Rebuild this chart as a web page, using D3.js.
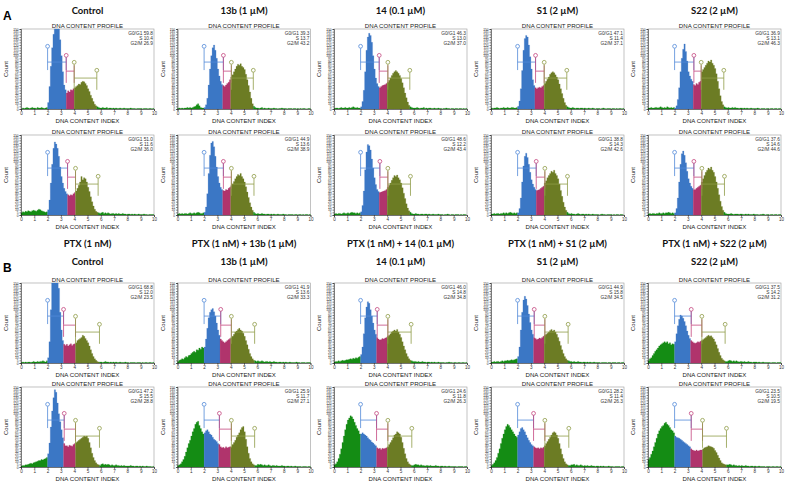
<!DOCTYPE html>
<html><head><meta charset="utf-8">
<script src="https://cdn.jsdelivr.net/npm/d3@7/dist/d3.min.js"></script>
<style>body{margin:0;background:#fff}svg{display:block}</style>
</head><body><svg id="c" width="791" height="485"></svg>
<script>
// ---------- DATA ----------
const titlesA = ["Control","13b (1 µM)","14 (0.1 µM)","S1 (2 µM)","S22 (2 µM)"];
const titlesPTX = ["PTX (1 nM)","PTX (1 nM) + 13b (1 µM)","PTX (1 nM) + 14 (0.1 µM)","PTX (1 nM) + S1 (2 µM)","PTX (1 nM) + S22 (2 µM)"];
const xTicks = [0,1,2,3,4,5,6,7,8,9,10];
const yTicks = [0,5,10,15,20,25,30,35,40,45,50,55,60,65,70,75,80,85,90,95,100,105,110,115,120,125,130,135,140,145,150];
const g0g1 = [59.8,39.3,46.3,47.1,36.9, 51.0,44.9,48.6,38.8,37.6, 68.8,41.9,46.0,44.9,37.5, 47.2,25.9,24.6,28.2,23.5];
const sPh  = [10.4,13.7,13.0,11.4,13.1, 11.6,13.6,12.2,14.3,14.6, 12.0,13.6,14.8,15.8,14.2, 15.5,11.7,11.8,11.4,10.5];
const g2m  = [26.9,43.2,37.0,37.1,46.3, 36.0,38.9,43.4,42.6,44.6, 23.5,33.3,34.8,34.5,31.2, 28.8,27.1,26.3,26.3,19.5];
const gates = [
 [2.0,3.4,4.0,5.7],[2.0,3.45,4.05,5.7],[2.0,3.4,4.05,5.7],[2.0,3.35,4.0,5.7],[2.0,3.45,4.0,5.7],
 [2.0,3.5,4.1,5.8],[2.0,3.45,4.05,5.75],[2.0,3.45,4.05,5.75],[2.0,3.4,4.05,5.75],[2.0,3.45,4.05,5.75],
 [2.0,3.2,4.1,5.9],[2.0,3.25,4.05,5.8],[2.0,3.25,4.05,5.8],[2.0,3.25,4.05,5.8],[2.0,3.25,4.05,5.8],
 [2.0,3.25,4.1,5.9],[2.0,3.15,4.05,5.8],[2.0,3.2,4.05,5.85],[2.0,3.2,4.05,5.85],[2.0,3.25,4.1,5.9]];
// histogram counts, bins of 0.1 DNA content index from 0 to 10
const h01 = [0,2,1,2,3,2,1,2,3,2,2,1,3,2,2,3,2,1,2,3, 12,42,80,115,140,165,180,175,160,130, 100,70,45,36,30,34,32,36,35,38, 40,42,44,47,46,50,52,51,48,44, 38,33,26,20,14,9,6,4,3,2, 2,3,2,2,3,1,2,2,1,2,1,2,1,1,2,1,1,2,1,1,1,1,2,1,1,1,0,1,1,1,1,0,1,1,1,0,1,1,0,1];
const h02 = [1,2,1,2,1,2,2,3,2,3,2,3,4,5,8,10,6,3,2,2, 3,8,20,45,75,100,115,120,110,95, 75,62,52,46,44,42,45,48,50,55, 60,64,70,75,80,84,82,85,80,78, 74,65,55,44,32,20,10,5,3,2, 2,1,2,3,1,2,1,1,2,1,1,1,2,1,1,0,1,1,2,1,1,1,0,1,1,1,0,1,1,0,1,0,1,0,1,1,0,0,1,1];
const h03 = [1,2,2,1,2,3,2,2,3,2,2,3,2,3,4,3,2,3,2,2, 4,14,35,70,110,135,142,138,125,100, 75,58,48,42,40,42,44,45,46,48, 50,54,58,63,67,70,72,70,67,63, 57,49,40,30,21,13,7,4,3,2, 2,2,3,2,1,2,2,3,1,2,1,2,2,1,1,2,1,1,2,1,1,0,1,1,2,1,1,0,1,1,0,1,1,0,1,1,0,1,0,1];
const h04 = [2,1,2,2,3,2,1,2,2,3,2,2,3,2,2,3,3,2,2,3, 5,15,38,72,110,132,138,135,120,98, 75,55,44,40,38,40,41,40,42,44, 48,52,56,60,65,68,70,68,64,60, 55,47,38,29,20,12,7,4,3,2, 2,3,2,1,2,2,1,2,2,1,2,1,1,2,1,1,2,1,0,1,1,1,0,1,2,1,0,1,1,1,0,1,1,0,1,0,1,1,0,1];
const h05 = [2,2,3,2,2,3,3,2,3,4,3,2,3,2,4,3,2,3,2,3, 2,6,18,40,70,95,112,122,108,90, 70,62,56,52,46,44,48,46,50,52, 70,74,78,82,86,90,88,92,86,82, 76,66,52,38,25,14,8,4,3,2, 3,2,2,3,2,3,2,2,1,2,2,1,2,1,2,1,1,2,1,1,1,1,2,1,0,1,1,1,0,1,1,0,1,1,0,1,1,0,1,1];
const h06 = [4,6,5,7,6,8,7,6,8,9,8,7,9,11,10,8,7,6,5,6, 10,28,60,95,125,137,133,125,110,90, 72,60,50,44,40,38,36,38,37,40, 42,45,50,56,62,72,66,70,68,62, 52,44,34,25,17,11,7,5,4,3, 4,5,3,4,3,4,3,2,3,3,2,3,2,3,2,2,3,2,2,1,2,2,1,2,1,2,1,1,2,1,1,1,2,1,1,0,1,1,1,1];
const h07 = [2,3,2,3,2,3,3,2,3,4,3,3,4,3,4,5,4,3,3,4, 5,15,40,78,112,135,138,128,110,90, 72,60,52,48,46,45,48,47,50,52, 55,58,63,68,72,76,74,78,72,68, 62,53,43,33,23,15,9,5,3,2, 3,2,2,3,2,2,1,2,2,1,2,1,2,1,1,2,1,1,1,2,1,1,0,1,1,1,1,0,1,1,0,1,1,0,1,0,1,1,0,1];
const h08 = [2,3,2,3,3,2,3,4,3,3,4,3,4,5,4,4,3,4,3,4, 6,18,45,85,118,132,130,122,105,88, 70,57,48,44,42,43,44,45,46,48, 52,56,60,65,70,74,72,75,70,66, 60,51,41,31,21,13,8,5,3,2, 2,3,2,2,1,2,2,1,2,2,1,2,1,1,2,1,1,1,2,1,1,1,0,1,1,2,1,0,1,1,0,1,1,1,0,1,0,1,1,0];
const h09 = [2,2,3,2,3,3,2,3,3,4,3,4,3,4,5,4,3,4,3,4, 4,12,32,62,92,110,116,108,95,80, 66,58,52,48,46,47,48,50,52,54, 60,64,70,74,78,82,80,84,78,74, 68,58,46,35,24,15,9,5,3,2, 3,2,2,1,2,3,2,1,2,2,1,2,1,2,1,1,2,1,1,1,1,0,1,2,1,1,0,1,1,1,1,0,1,0,1,1,0,1,1,0];
const h10 = [2,3,2,3,3,2,3,3,4,3,3,4,3,4,4,5,4,3,4,3, 4,12,32,62,95,115,120,112,98,82, 68,60,54,50,48,48,50,52,54,56, 62,68,74,80,84,88,86,90,84,80, 72,62,50,38,26,16,9,5,3,2, 2,2,3,2,1,2,2,2,1,2,2,1,1,2,1,2,1,1,1,2,1,1,1,0,1,1,2,1,0,1,1,0,1,1,0,1,1,0,1,1];
const h11 = [1,2,1,2,1,2,2,1,2,3,2,2,3,2,3,3,4,3,2,4, 10,40,100,160,210,230,220,190,140,95, 62,42,35,33,35,32,34,36,33,35, 36,38,42,44,46,48,52,50,46,42, 38,32,25,18,12,8,5,3,2,2, 2,1,2,3,2,2,1,2,1,2,1,2,1,1,2,1,1,1,2,1,1,0,1,1,1,1,0,1,1,1,0,1,0,1,1,0,1,1,0,1];
const h12 = [3,5,6,8,7,10,12,11,14,15,18,20,22,20,25,24,28,26,30,28, 30,45,65,85,95,100,102,96,88,75, 62,52,45,42,40,38,40,42,44,46, 48,50,54,58,60,63,65,62,60,56, 50,42,34,26,18,12,8,5,4,3, 4,3,3,4,3,2,3,3,2,3,2,2,3,2,2,1,2,2,1,2,1,2,1,1,2,1,1,1,1,2,1,1,0,1,1,1,0,1,1,1];
const h13 = [2,3,3,4,3,4,5,4,5,6,6,7,8,7,9,8,10,9,11,12, 16,30,55,85,105,115,112,100,88,75, 62,54,48,45,43,44,46,45,47,48, 50,52,55,58,60,62,60,63,58,54, 48,40,32,25,18,12,8,5,4,3, 3,3,2,3,2,2,3,2,2,1,2,2,1,2,1,2,1,1,2,1,1,1,1,0,1,1,2,1,1,0,1,1,0,1,1,0,1,1,0,1];
const h14 = [2,2,3,2,3,3,2,3,4,3,4,4,5,4,5,6,5,6,7,8, 12,30,62,95,118,125,120,108,92,76, 62,54,48,46,44,45,47,46,48,50, 52,54,56,58,61,63,60,62,58,54, 48,41,33,25,18,12,8,5,4,3, 3,2,3,2,2,3,2,2,1,2,2,1,2,1,2,1,1,2,1,1,1,1,0,1,1,1,1,0,1,1,0,1,1,1,0,1,1,0,1,1];
const h15 = [4,8,10,14,18,22,25,28,32,34,36,38,40,38,40,36,38,34,36,35, 40,55,70,82,90,88,84,78,70,60, 52,46,42,40,38,37,38,40,39,41, 42,44,46,48,50,52,50,51,48,45, 40,34,27,20,14,9,6,4,3,3, 4,5,4,3,4,3,4,3,2,3,3,2,3,2,2,3,2,2,1,2,2,2,1,2,1,1,2,1,1,1,1,1,0,1,1,1,0,1,1,1];
const h16 = [2,3,3,4,4,5,6,7,6,8,9,10,11,12,12,14,13,15,16,18, 25,45,75,105,130,145,140,120,100,85, 70,55,44,40,40,38,41,40,39,42, 44,46,48,50,52,54,56,58,57,58, 54,46,36,26,18,12,8,5,4,3, 5,6,4,5,4,5,4,3,4,3,3,4,3,3,2,3,2,3,2,2,2,2,3,2,2,1,2,2,1,2,1,2,1,1,2,1,1,1,0,1];
const h17 = [3,4,6,10,14,20,28,36,44,50,58,66,72,80,84,86,78,72,66,62, 64,68,70,66,62,60,56,52,50,48, 44,42,38,36,37,35,38,36,37,38, 38,42,46,50,56,60,64,70,74,76, 66,52,38,26,16,10,6,4,3,3, 5,4,5,4,3,4,3,3,4,3,2,3,3,2,3,2,2,2,3,2,2,1,2,2,1,2,1,1,2,1,1,1,1,0,1,1,1,0,1,1];
const h18 = [4,6,10,16,24,34,46,58,70,80,88,92,96,94,90,84,78,72,68,62, 62,64,62,60,58,55,52,50,47,45, 42,40,36,34,35,33,35,34,35,36, 38,42,46,50,55,60,62,66,64,62, 56,46,35,25,16,10,6,4,3,3, 4,5,4,4,3,4,3,3,2,3,3,2,3,2,2,2,3,2,2,1,2,2,1,2,1,1,2,1,1,1,1,1,0,1,1,1,1,0,1,1];
const h19 = [3,5,8,12,18,26,34,44,54,62,70,76,80,78,74,70,66,62,58,56, 60,66,72,74,70,66,60,55,50,46, 42,40,38,36,35,36,34,36,35,37, 40,44,48,52,56,60,64,66,64,60, 54,44,34,24,16,10,6,4,3,3, 4,4,5,3,4,3,3,4,3,2,3,2,3,2,2,3,2,2,1,2,2,1,2,1,2,1,1,1,2,1,1,1,0,1,1,1,1,0,1,1];
const h20 = [14,18,24,30,38,46,54,62,68,72,76,78,82,84,80,78,74,70,68,64, 58,56,55,54,52,50,48,46,44,42, 40,38,34,32,31,30,32,30,31,32, 32,34,36,37,38,40,39,38,37,35, 31,27,22,17,12,8,6,5,4,4, 4,5,4,3,4,3,3,2,3,2,3,2,2,3,2,2,1,2,2,1,2,1,1,2,1,1,1,1,0,1,1,1,0,1,1,0,1,1,0,1];
const hists = [h01,h02,h03,h04,h05,h06,h07,h08,h09,h10,h11,h12,h13,h14,h15,h16,h17,h18,h19,h20];
const gateLevels = [{top:114,bar:88,bot:73},{top:97,bar:71,bot:49},{top:84,bar:58,bot:36}];

// ---------- DRAW ----------
const svg = d3.select("#c");
const colX = [21,177.5,334,491,648], rowY = [29,135,283,387];
const PW = 133, PH = 80;
const x = d3.scaleLinear().domain([0,10]).range([0,PW]);
const y = d3.scaleLinear().domain([0,150]).range([PH,0]).clamp(true);
const fill = {green:"#148c14", blue:"#3b77c5", mag:"#b0346c", olive:"#6c7c24"};
const gateCol = ["#5289d8","#c4467f","#8f9c48"];
const binW = 0.1;
function binColor(i, gt){
  const c = i*binW + binW/2;
  if (c < gt[0] || c >= gt[3]) return fill.green;
  if (c < gt[1]) return fill.blue;
  if (c < gt[2]) return fill.mag;
  return fill.olive;
}
const F = "'Liberation Sans', Arial, sans-serif";
const area = d3.area().x(d=>x(d.x)).y0(PH).y1(d=>y(d.v)).curve(d3.curveStepAfter);

hists.forEach((h,k)=>{
  const r = Math.floor(k/5), c = k%5, gt = gates[k];
  const g = svg.append("g").attr("transform",`translate(${colX[c]},${rowY[r]})`);
  g.append("rect").attr("width",PW).attr("height",PH).attr("fill","#fff").attr("stroke","#9a9a9a").attr("stroke-width",0.6);
  // group consecutive bins with same gate colour into segments
  const segs = [];
  h.forEach((v,i)=>{
    const col = binColor(i,gt);
    if (!segs.length || segs[segs.length-1].col !== col) segs.push({col, pts:[]});
    segs[segs.length-1].pts.push({x:i*binW, v});
  });
  segs.forEach(s=>{ const last = s.pts[s.pts.length-1]; s.pts.push({x:last.x+binW, v:last.v}); });
  g.selectAll("path.seg").data(segs).join("path").attr("class","seg")
    .attr("d",s=>area(s.pts)).attr("fill",s=>s.col).attr("stroke",s=>s.col).attr("stroke-width",0.2);
  // gates
  gateLevels.forEach((lv,j)=>{
    const x0 = x(gt[j]), x1 = x(gt[j+1]), col = gateCol[j];
    const gg = g.append("g").attr("stroke",col).attr("stroke-width",0.8).attr("fill","none");
    gg.append("line").attr("x1",x0).attr("x2",x0).attr("y1",y(lv.bot)).attr("y2",y(lv.top));
    gg.append("line").attr("x1",x0).attr("x2",x1).attr("y1",y(lv.bar)).attr("y2",y(lv.bar));
    gg.append("line").attr("x1",x1).attr("x2",x1).attr("y1",y(lv.bot)).attr("y2",y(lv.top-15));
    gg.append("circle").attr("cx",x0).attr("cy",y(lv.top)-1.9).attr("r",1.9).attr("fill","#fff");
    if (j===2) gg.append("circle").attr("cx",x1).attr("cy",y(lv.top-15)-1.9).attr("r",1.9).attr("fill","#fff");
  });
  // axes
  const ya = g.append("g").call(d3.axisLeft(y).tickValues(yTicks).tickSize(1.5).tickPadding(0.8));
  ya.selectAll("text").attr("font-size",3.3).attr("font-family",F).attr("fill","#333");
  ya.selectAll("path,line").attr("stroke","#111").attr("stroke-width",0.5);
  const xa = g.append("g").attr("transform",`translate(0,${PH})`).call(d3.axisBottom(x).tickValues(xTicks).tickSize(2).tickPadding(1).tickFormat(d3.format("d")));
  xa.selectAll("text").attr("font-size",4.6).attr("font-family",F).attr("fill","#333");
  xa.selectAll("path,line").attr("stroke","#111").attr("stroke-width",0.5);
  // texts
  g.append("text").attr("x",PW/2).attr("y",-1.2).attr("text-anchor","middle").attr("font-family",F).attr("font-size",6.1).attr("fill","#222").text("DNA CONTENT PROFILE");
  g.append("text").attr("x",PW/2).attr("y",PH+14.3).attr("text-anchor","middle").attr("font-family",F).attr("font-size",6.1).attr("fill","#222").text("DNA CONTENT INDEX");
  g.append("text").attr("transform",`translate(${-13},${PH/2}) rotate(-90)`).attr("text-anchor","middle").attr("font-family",F).attr("font-size",6).attr("fill","#222").text("Count");
  const st = [`G0/G1 ${g0g1[k].toFixed(1)}`, `S ${sPh[k].toFixed(1)}`, `G2/M ${g2m[k].toFixed(1)}`];
  st.forEach((t,i)=>g.append("text").attr("x",PW-1).attr("y",6+i*5.2).attr("text-anchor","end").attr("font-family",F).attr("font-size",4.8).attr("fill","#333").text(t));
});

// headers
const HF = "Lato, 'Open Sans', sans-serif";
titlesA.forEach((t,c)=>svg.append("text").attr("x",colX[c]+PW/2).attr("y",13.5).attr("text-anchor","middle").attr("font-family",HF).attr("font-weight",700).attr("font-size",9.5).attr("fill","#111").text(t));
titlesPTX.forEach((t,c)=>svg.append("text").attr("x",colX[c]+PW/2).attr("y",246.5).attr("text-anchor","middle").attr("font-family",HF).attr("font-weight",700).attr("font-size",9.5).attr("fill","#111").text(t));
titlesA.forEach((t,c)=>svg.append("text").attr("x",colX[c]+PW/2).attr("y",264.5).attr("text-anchor","middle").attr("font-family",HF).attr("font-weight",700).attr("font-size",9.5).attr("fill","#111").text(t));
svg.append("text").attr("x",3).attr("y",20).attr("font-family",F).attr("font-weight",700).attr("font-size",12).text("A");
svg.append("text").attr("x",3).attr("y",272).attr("font-family",F).attr("font-weight",700).attr("font-size",12).text("B");
</script></body></html>
